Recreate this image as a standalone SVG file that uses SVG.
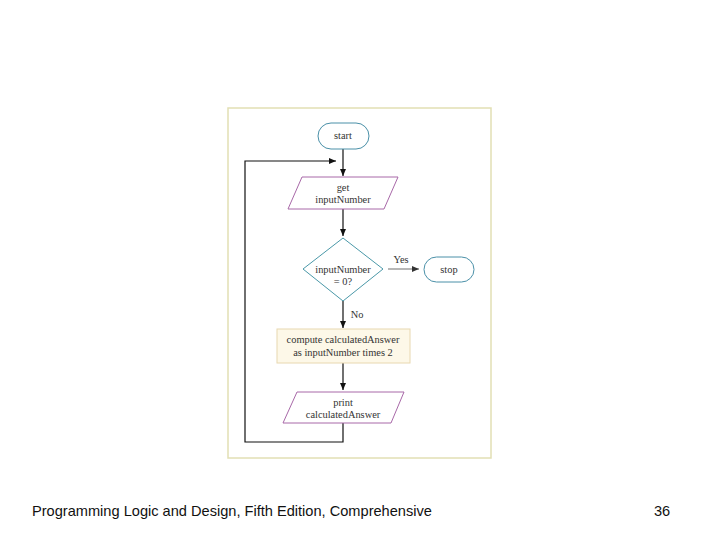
<svg xmlns="http://www.w3.org/2000/svg" width="720" height="540" viewBox="0 0 720 540">
<style>
.lbl{font-family:"Liberation Serif","Times New Roman",serif;font-size:10.4px;fill:#333;text-anchor:middle}
.term{fill:#fff;stroke:#4a90a8;stroke-width:1}
.io{fill:#fff;stroke:#a868a8;stroke-width:1}
.dec{fill:#fff;stroke:#4a98a8;stroke-width:1}
.proc{fill:#fdf8e8;stroke:#e8d8b0;stroke-width:1}
.conn{fill:none;stroke:#111;stroke-width:1.2}
.foot{font-family:"Liberation Sans",Arial,sans-serif;font-size:14.6px;fill:#111}
</style>
<defs>
<marker id="ah" markerWidth="8" markerHeight="8" refX="7" refY="4" orient="auto" markerUnits="userSpaceOnUse">
<path d="M0,1 L7,4 L0,7 z" fill="#111"/>
</marker>
<marker id="ahg" markerWidth="8" markerHeight="8" refX="7" refY="4" orient="auto" markerUnits="userSpaceOnUse">
<path d="M0,1 L7,4 L0,7 z" fill="#333"/>
</marker>
</defs>
<rect x="0" y="0" width="720" height="540" fill="#fff"/>
<rect id="frame" x="228" y="108" width="263" height="350" fill="#fff" stroke="#e2dfb4" stroke-width="1.5"/>
<g id="connectors">
<line class="conn" x1="343" y1="149" x2="343" y2="176" marker-end="url(#ah)"/>
<line class="conn" x1="343" y1="209" x2="343" y2="236" marker-end="url(#ah)"/>
<line x1="388" y1="269" x2="419" y2="269" stroke="#888" stroke-width="1.2" marker-end="url(#ahg)"/>
<line class="conn" x1="343" y1="301" x2="343" y2="328" marker-end="url(#ah)"/>
<line class="conn" x1="343" y1="363" x2="343" y2="390" marker-end="url(#ah)"/>
<polyline class="conn" points="343,423 343,442 245,442 245,161 336,161" marker-end="url(#ah)"/>
<text class="lbl" x="401" y="263">Yes</text>
<text class="lbl" x="357" y="318">No</text>
</g>
<g id="start">
<rect class="term" x="318" y="123" width="51" height="26" rx="13"/>
<text class="lbl" x="343" y="139">start</text>
</g>
<g id="get">
<polygon class="io" points="302,177 398,177 384,209 288,209"/>
<text class="lbl" x="343" y="191">get</text>
<text class="lbl" x="343" y="203">inputNumber</text>
</g>
<g id="decision">
<polygon class="dec" points="343,238 383,269 343,301 303,269"/>
<text class="lbl" x="343" y="273">inputNumber</text>
<text class="lbl" x="343" y="285">= 0?</text>
</g>
<g id="stop">
<rect class="term" x="424" y="257" width="50" height="25" rx="12.5"/>
<text class="lbl" x="449" y="273">stop</text>
</g>
<g id="compute">
<rect class="proc" x="277" y="329" width="133" height="34"/>
<text class="lbl" x="343" y="343">compute calculatedAnswer</text>
<text class="lbl" x="343" y="356">as inputNumber times 2</text>
</g>
<g id="print">
<polygon class="io" points="297,392 404,392 391,423 283,423"/>
<text class="lbl" x="343" y="406">print</text>
<text class="lbl" x="343" y="418">calculatedAnswer</text>
</g>
<text class="foot" x="32" y="516">Programming Logic and Design, Fifth Edition, Comprehensive</text>
<text class="foot" x="654" y="516">36</text>
</svg>
